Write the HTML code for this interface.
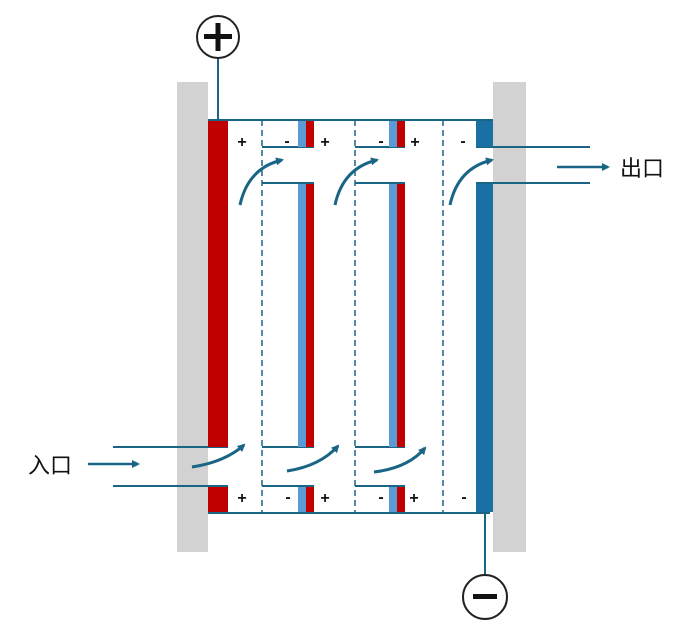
<!DOCTYPE html>
<html><head><meta charset="utf-8"><style>body{margin:0;background:#fff}svg{display:block}</style></head><body>
<svg width="700" height="628" viewBox="0 0 700 628" xmlns="http://www.w3.org/2000/svg" font-family="Liberation Sans, Noto Sans CJK SC, sans-serif">
<defs><marker id="ah" markerWidth="8" markerHeight="8" refX="6" refY="4" orient="auto" markerUnits="userSpaceOnUse"><path d="M0,0 L8,4 L0,8 z" fill="#1a6585"/></marker></defs>
<rect x="177" y="82" width="31" height="470" fill="#d2d2d2"/>
<rect x="493" y="82" width="33" height="470" fill="#d2d2d2"/>
<g stroke="#1a6585" stroke-width="2" fill="none">
<line x1="208" y1="120" x2="493" y2="120"/>
<line x1="208" y1="513" x2="490" y2="513"/>
<line x1="218" y1="58" x2="218" y2="120"/>
<line x1="485" y1="513" x2="485" y2="575"/>
<circle cx="218" cy="37" r="21" stroke="#222"/>
<circle cx="485" cy="597" r="22" stroke="#222"/>
<line x1="113" y1="447" x2="228" y2="447"/><line x1="113" y1="486" x2="228" y2="486"/>
<line x1="262" y1="147" x2="314" y2="147"/><line x1="262" y1="183" x2="314" y2="183"/>
<line x1="262" y1="447" x2="314" y2="447"/><line x1="262" y1="486" x2="314" y2="486"/>
<line x1="355" y1="147" x2="405" y2="147"/><line x1="355" y1="183" x2="405" y2="183"/>
<line x1="355" y1="447" x2="405" y2="447"/><line x1="355" y1="486" x2="405" y2="486"/>
<line x1="476" y1="147" x2="590" y2="147"/><line x1="476" y1="183" x2="590" y2="183"/>
<g stroke-dasharray="6,4" stroke-width="1.5"><line x1="262" y1="120" x2="262" y2="513"/><line x1="355" y1="120" x2="355" y2="513"/><line x1="443" y1="120" x2="443" y2="513"/></g>
<g stroke-width="3" marker-end="url(#ah)">
<path d="M240,205 Q248,168 282,160"/><path d="M335,205 Q343,168 377,160"/><path d="M450,205 Q458,168 492,160"/>
<path d="M192,467 Q225,462 244,445"/><path d="M287,471 Q320,466 338,446"/><path d="M374,472 Q408,468 425,448"/>
<line x1="88" y1="464" x2="138" y2="464" stroke-width="2.5"/><line x1="557" y1="167" x2="608" y2="167" stroke-width="2.5"/>
</g>
</g>
<g fill="#c00000">
<rect x="208" y="121" width="20" height="326"/><rect x="208" y="487" width="20" height="25"/>
<rect x="306" y="121" width="8" height="26"/><rect x="306" y="184" width="8" height="263"/><rect x="306" y="487" width="8" height="25"/>
<rect x="397" y="121" width="8" height="26"/><rect x="397" y="184" width="8" height="263"/><rect x="397" y="487" width="8" height="25"/>
</g>
<g fill="#5b9bd5">
<rect x="298" y="121" width="8" height="26"/><rect x="298" y="184" width="8" height="263"/><rect x="298" y="487" width="8" height="25"/>
<rect x="389" y="121" width="8" height="26"/><rect x="389" y="184" width="8" height="263"/><rect x="389" y="487" width="8" height="25"/>
</g>
<g fill="#1a6fa3"><rect x="476" y="121" width="17" height="26"/><rect x="476" y="184" width="17" height="328"/></g>
<g font-size="16" font-weight="bold" fill="#111" text-anchor="middle">
<text x="242" y="147">+</text><text x="287" y="146">-</text><text x="325" y="147">+</text><text x="381" y="146">-</text><text x="415" y="147">+</text><text x="463" y="146">-</text>
<text x="242" y="503">+</text><text x="288" y="502">-</text><text x="325" y="503">+</text><text x="381" y="502">-</text><text x="414" y="503">+</text><text x="464" y="502">-</text>
</g>
<rect x="204" y="34" width="28" height="5" fill="#111"/><rect x="215.5" y="23" width="5" height="28" fill="#111"/>
<rect x="473" y="594" width="24" height="5" fill="#111"/>
<text x="28" y="473" font-size="22" fill="#111">入口</text>
<text x="620" y="176" font-size="22" fill="#111">出口</text>
</svg>
</body></html>
